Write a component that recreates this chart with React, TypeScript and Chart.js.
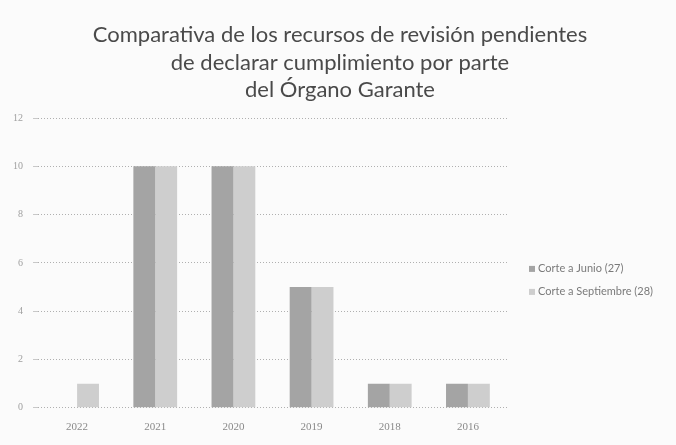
import React, { useEffect, useRef } from "react";
import { Chart, registerables } from "chart.js";

Chart.register(...registerables);

const categories = ["2022", "2021", "2020", "2019", "2018", "2016"];
const junio = [0, 10, 10, 5, 1, 1];
const septiembre = [1, 10, 10, 5, 1, 1];
const seriesNames = ["Corte a Junio (27)", "Corte a Septiembre (28)"];
const seriesColors = ["#a4a4a4", "#cecece"];
const titleLines = [
  "Comparativa de los recursos de revisión pendientes",
  "de declarar cumplimiento por parte",
  "del Órgano Garante",
];

const sideLegend = {
  id: "sideLegend",
  afterDraw(chart: any) {
    const ctx = chart.ctx;
    const area = chart.chartArea;
    const x0 = area.right + 22;
    const yMid = (area.top + area.bottom) / 2;
    const gap = 23;
    ctx.save();
    ctx.font = "11px Lato, 'Open Sans', sans-serif";
    ctx.textBaseline = "middle";
    chart.data.datasets.forEach((ds: any, i: number) => {
      const y = yMid + 6 + i * gap;
      ctx.fillStyle = ds.backgroundColor;
      ctx.fillRect(x0, y - 3, 6, 6);
      ctx.fillStyle = "#7a7a7a";
      ctx.fillText(ds.label, x0 + 9, y);
    });
    ctx.restore();
  },
};

const centeredTitle = {
  id: "centeredTitle",
  afterDraw(chart: any) {
    const ctx = chart.ctx;
    const cx = chart.width / 2 + 2;
    ctx.save();
    ctx.font = "22px Lato, 'Open Sans', sans-serif";
    ctx.fillStyle = "#4a4a4a";
    ctx.textAlign = "center";
    ctx.textBaseline = "middle";
    titleLines.forEach((line, i) => {
      ctx.fillText(line, cx, 35 + i * 27.5);
    });
    ctx.restore();
  },
};

export default function App() {
  const ref = useRef<HTMLCanvasElement | null>(null);
  useEffect(() => {
    if (!ref.current) return;
    const chart = new Chart(ref.current, {
      type: "bar",
      data: {
        labels: categories,
        datasets: [
          {
            label: seriesNames[0],
            data: junio,
            backgroundColor: seriesColors[0],
            categoryPercentage: 0.56,
            barPercentage: 1.0,
          },
          {
            label: seriesNames[1],
            data: septiembre,
            backgroundColor: seriesColors[1],
            categoryPercentage: 0.56,
            barPercentage: 1.0,
          },
        ],
      },
      plugins: [sideLegend, centeredTitle],
      options: {
        animation: false,
        responsive: true,
        maintainAspectRatio: false,
        layout: { padding: { left: 3, right: 169, top: 118, bottom: 6 } },
        plugins: {
          title: { display: false },
          legend: { display: false },
          tooltip: { enabled: false },
        },
        scales: {
          x: {
            grid: { display: false },
            border: { display: false },
            ticks: { color: "#8a8a8a", font: { family: "'Liberation Serif', serif", size: 11 }, padding: 5 },
          },
          y: {
            min: 0,
            max: 12,
            ticks: { stepSize: 2, color: "#a0a0a0", font: { family: "'Liberation Serif', serif", size: 10 }, padding: 10 },
            grid: { color: "#b0b0b0", lineWidth: 1, tickLength: 5, tickColor: "#c8c8c8" },
            border: { display: false, dash: [1, 2] },
          },
        },
      },
    });
    return () => chart.destroy();
  }, []);
  return (
    <div style={{ position: "fixed", left: 0, top: 0, width: 676, height: 445, background: "#fbfbfb" }}>
      <canvas ref={ref} />
    </div>
  );
}
